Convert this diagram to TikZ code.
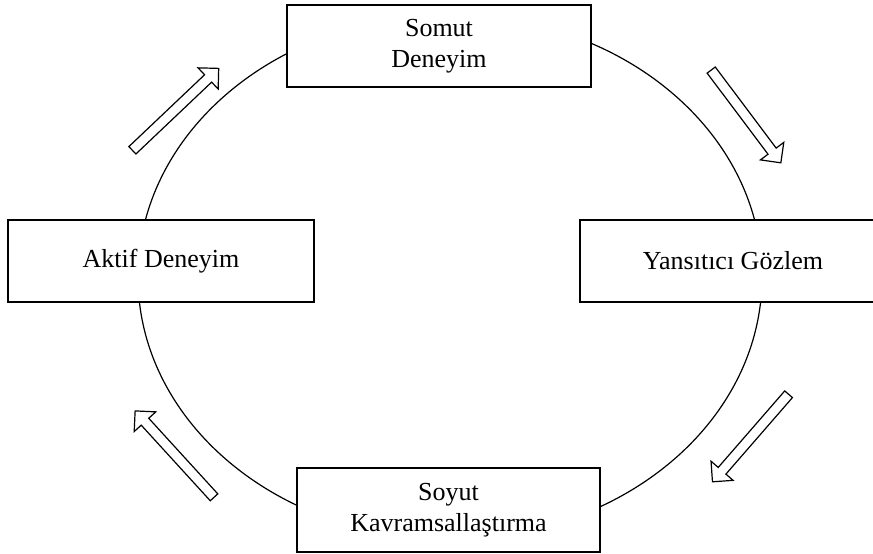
\documentclass[tikz,border=0pt]{standalone}
\usepackage{fontspec}
\setmainfont{Liberation Serif}
\usetikzlibrary{shapes.arrows}
\begin{document}
\begin{tikzpicture}[x=1pt,y=-1pt,
  stagebox/.style={draw, line width=1.6pt, fill=white, align=center,
    font=\fontsize{26}{31}\selectfont, inner sep=0pt},
  flowarrow/.style={single arrow, draw, line width=1.2pt, fill=white,
    inner xsep=0pt, inner ysep=4.5pt, text height=0pt, text depth=0pt,
    single arrow head extend=9.5pt, single arrow tip angle=90}]
\useasboundingbox (0,0) rectangle (873,554);
\fill[white] (0,0) rectangle (873,554);
\draw[line width=1.2pt] (450,277) ellipse (312 and 262);
\node[stagebox, minimum width=304pt, minimum height=82pt] (somut) at (439,46) {Somut\\Deneyim};
\node[stagebox, minimum width=306pt, minimum height=82pt] (yans) at (733,261) {Yansıtıcı Gözlem};
\node[stagebox, minimum width=306pt, minimum height=82pt] (aktif) at (161,261) {Aktif Deneyim};
\node[stagebox, minimum width=303pt, minimum height=84pt] (soyut) at (448.5,510) {Soyut\\Kavramsallaştırma};
\node[flowarrow, minimum height=119pt, rotate=43.5] (a1) at (173.7,111.1) {};
\node[flowarrow, minimum height=116pt, rotate=-53.1] (a2) at (744.5,114.4) {};
\node[flowarrow, minimum height=116pt, rotate=-131] (a3) at (752.2,436.1) {};
\node[flowarrow, minimum height=117pt, rotate=132.4] (a4) at (176.3,456) {};
\end{tikzpicture}
\end{document}
